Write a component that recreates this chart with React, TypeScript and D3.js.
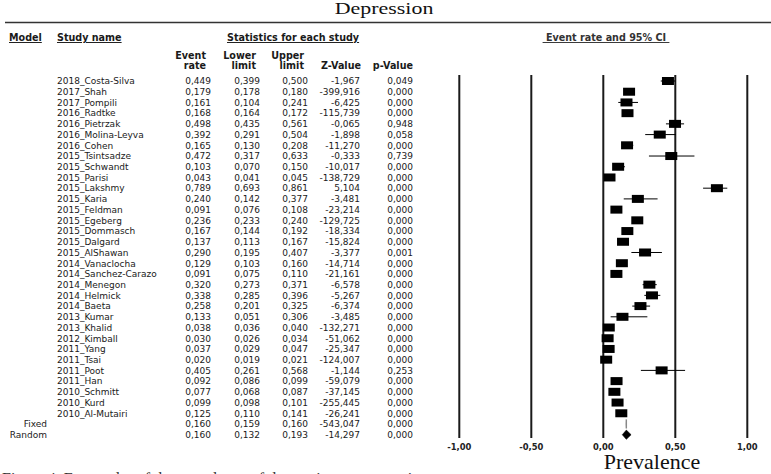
import React from "react";
import * as d3 from "d3";

const studies = [
  "2018_Costa-Silva", "2017_Shah", "2017_Pompili", "2016_Radtke", "2016_Pietrzak",
  "2016_Molina-Leyva", "2016_Cohen", "2015_Tsintsadze", "2015_Schwandt", "2015_Parisi",
  "2015_Lakshmy", "2015_Karia", "2015_Feldman", "2015_Egeberg", "2015_Dommasch",
  "2015_Dalgard", "2015_AlShawan", "2014_Vanaclocha", "2014_Sanchez-Carazo", "2014_Menegon",
  "2014_Helmick", "2014_Baeta", "2013_Kumar", "2013_Khalid", "2012_Kimball",
  "2011_Yang", "2011_Tsai", "2011_Poot", "2011_Han", "2010_Schmitt",
  "2010_Kurd", "2010_Al-Mutairi",
];
const eventRate = [0.449, 0.179, 0.161, 0.168, 0.498, 0.392, 0.165, 0.472, 0.103, 0.043, 0.789, 0.240, 0.091, 0.236, 0.167, 0.137, 0.290, 0.129, 0.091, 0.320, 0.338, 0.258, 0.133, 0.038, 0.030, 0.037, 0.020, 0.405, 0.092, 0.077, 0.099, 0.125];
const lowerLimit = [0.399, 0.178, 0.104, 0.164, 0.435, 0.291, 0.130, 0.317, 0.070, 0.041, 0.693, 0.142, 0.076, 0.233, 0.144, 0.113, 0.195, 0.103, 0.075, 0.273, 0.285, 0.201, 0.051, 0.036, 0.026, 0.029, 0.019, 0.261, 0.086, 0.068, 0.098, 0.110];
const upperLimit = [0.500, 0.180, 0.241, 0.172, 0.561, 0.504, 0.208, 0.633, 0.150, 0.045, 0.861, 0.377, 0.108, 0.240, 0.192, 0.167, 0.407, 0.160, 0.110, 0.371, 0.396, 0.325, 0.306, 0.040, 0.034, 0.047, 0.021, 0.568, 0.099, 0.087, 0.101, 0.141];
const zValue = [-1.967, -399.916, -6.425, -115.739, -0.065, -1.898, -11.270, -0.333, -10.017, -138.729, 5.104, -3.481, -23.214, -129.725, -18.334, -15.824, -3.377, -14.714, -21.161, -6.578, -5.267, -6.374, -3.485, -132.271, -51.062, -25.347, -124.007, -1.144, -59.079, -37.145, -255.445, -26.241];
const pValue = [0.049, 0.000, 0.000, 0.000, 0.948, 0.058, 0.000, 0.739, 0.000, 0.000, 0.000, 0.000, 0.000, 0.000, 0.000, 0.000, 0.001, 0.000, 0.000, 0.000, 0.000, 0.000, 0.000, 0.000, 0.000, 0.000, 0.000, 0.253, 0.000, 0.000, 0.000, 0.000];

const summaryModels = ["Fixed", "Random"];
const summaryRate = [0.160, 0.160];
const summaryLower = [0.159, 0.132];
const summaryUpper = [0.160, 0.193];
const summaryZ = [-543.047, -14.297];
const summaryP = [0.000, 0.000];

const xTicks = [-1, -0.5, 0, 0.5, 1];

const locale = d3.formatLocale({ decimal: ",", thousands: ".", grouping: [3], currency: ["", ""], minus: "-" });
const f3 = locale.format(".3f");
const f2 = locale.format(".2f");

const SANS = "'DejaVu Sans', Verdana, sans-serif";
const SERIF = "'Liberation Serif', 'Times New Roman', serif";

export default function App() {
  const W = 771, H = 474;
  const rowKeys = [...studies, ...summaryModels];
  const y = d3.scalePoint<string>().domain(rowKeys).range([81, 434.7]);
  const x = d3.scaleLinear().domain([-1, 1]).range([459.3, 747.3]);

  const colRight = { rate: 211, lower: 260, upper: 308, z: 360, p: 413 };
  const dataText = { fontFamily: SANS, fontSize: 9, fill: "#1a1a1a" } as const;
  const headText = { fontFamily: SANS, fontSize: 9.6, fontWeight: "bold", fill: "#1a1a1a" } as const;

  const rows = studies.map((s, i) => ({ name: s, model: "", r: eventRate[i], lo: lowerLimit[i], up: upperLimit[i], z: zValue[i], p: pValue[i], summary: false }));
  const sums = summaryModels.map((m, i) => ({ name: m, model: m, r: summaryRate[i], lo: summaryLower[i], up: summaryUpper[i], z: summaryZ[i], p: summaryP[i], summary: true }));

  const sqW = 12, sqH = 8, dH = 4.6;

  return (
    <svg width={W} height={H} style={{ position: "absolute", left: 0, top: 0, background: "#fff" }}>
      <rect x={0} y={0} width={W} height={H} fill="#fff" />
      {/* title */}
      <text transform="translate(384,13.6) scale(1.33,1)" textAnchor="middle" fontFamily={SERIF} fontSize={16.5} fill="#111">Depression</text>
      <line x1={5} x2={W} y1={22.5} y2={22.5} stroke="#333" strokeWidth={1.7} />

      {/* headers */}
      <text x={9} y={41} {...headText} textDecoration="underline">Model</text>
      <text x={57} y={41} {...headText} textDecoration="underline">Study name</text>
      <text x={227} y={41} {...headText} textDecoration="underline">Statistics for each study</text>
      <text x={606} y={41} {...headText} fill="#333" textAnchor="middle" textDecoration="underline" style={{ whiteSpace: "pre" }}>{" Event rate and 95% CI "}</text>

      <text x={206} y={59} {...headText} textAnchor="end">Event</text>
      <text x={206} y={69} {...headText} textAnchor="end">rate</text>
      <text x={256} y={59} {...headText} textAnchor="end">Lower</text>
      <text x={256} y={69} {...headText} textAnchor="end">limit</text>
      <text x={304} y={59} {...headText} textAnchor="end">Upper</text>
      <text x={304} y={69} {...headText} textAnchor="end">limit</text>
      <text x={361} y={69} {...headText} textAnchor="end">Z-Value</text>
      <text x={413} y={69} {...headText} textAnchor="end">p-Value</text>

      {/* table rows */}
      {[...rows, ...sums].map((d) => {
        const cy = (y(d.name) as number) + 3.3;
        return (
          <g key={d.name}>
            {d.summary ? (
              <text x={47} y={cy} {...dataText} textAnchor="end">{d.model}</text>
            ) : (
              <text x={57} y={cy} {...dataText}>{d.name}</text>
            )}
            <text x={colRight.rate} y={cy} {...dataText} textAnchor="end">{f3(d.r)}</text>
            <text x={colRight.lower} y={cy} {...dataText} textAnchor="end">{f3(d.lo)}</text>
            <text x={colRight.upper} y={cy} {...dataText} textAnchor="end">{f3(d.up)}</text>
            <text x={colRight.z} y={cy} {...dataText} textAnchor="end">{f3(d.z)}</text>
            <text x={colRight.p} y={cy} {...dataText} textAnchor="end">{f3(d.p)}</text>
          </g>
        );
      })}

      {/* vertical reference lines */}
      {xTicks.map((t) => (
        <line key={"v" + t} x1={x(t)} x2={x(t)} y1={75} y2={438} stroke="#1a1a1a" strokeWidth={2} />
      ))}
      {xTicks.map((t) => (
        <text key={"t" + t} x={x(t)} y={449.5} textAnchor="middle" fontFamily={SANS} fontSize={8.4} fontWeight="bold" fill="#222">{f2(t)}</text>
      ))}

      {/* study marks */}
      {rows.map((d) => {
        const cy = y(d.name) as number;
        return (
          <g key={"m" + d.name}>
            <line x1={x(d.lo)} x2={x(d.up)} y1={cy} y2={cy} stroke="#000" strokeWidth={1} />
            <rect x={x(d.r) - sqW / 2} y={cy - sqH / 2} width={sqW} height={sqH} fill="#000" />
          </g>
        );
      })}

      {/* summary diamonds */}
      {sums.map((d, i) => {
        const cy = y(d.name) as number;
        const pts = [[x(d.lo), cy], [x(d.r), cy - dH], [x(d.up), cy], [x(d.r), cy + dH]].map((p) => p.join(",")).join(" ");
        return (
          <polygon key={"d" + d.name} points={pts}
            fill={i === 0 ? "#888" : "#000"} stroke={i === 0 ? "#888" : "#000"} strokeWidth={i === 0 ? 1.4 : 0.6} />
        );
      })}

      <text transform="translate(652,469) scale(1.1,1)" textAnchor="middle" fontFamily={SERIF} fontSize={20} fill="#111">Prevalence</text>

      {/* cut-off caption */}
      <text x={2} y={484} fontFamily={SERIF} fontSize={16} fill="#333">Figure 4. Forest plot of the prevalence of depression among patients.</text>
    </svg>
  );
}
